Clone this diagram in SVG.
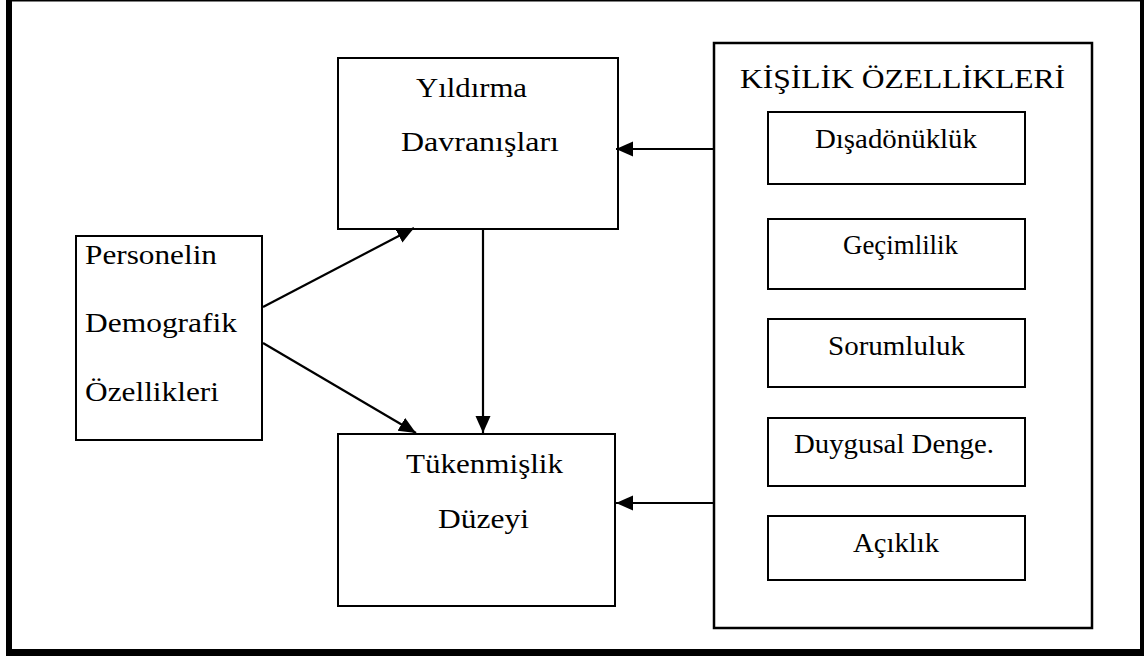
<svg xmlns="http://www.w3.org/2000/svg" width="1144" height="656" viewBox="0 0 1144 656">
  <style>
    .box { fill: #ffffff; stroke: #000000; stroke-width: 2; }
    .t { font-family: 'Liberation Serif', 'Times New Roman', Times, serif; font-size: 28px; fill: #000000; }
    .ti { font-family: 'Liberation Serif', 'Times New Roman', Times, serif; font-size: 27px; fill: #000000; }
    .conn { stroke: #000000; stroke-width: 2.2; fill: none; marker-end: url(#arr); }
  </style>
  <defs>
    <marker id="arr" markerUnits="userSpaceOnUse" markerWidth="18" markerHeight="16" refX="17" refY="7.5" orient="auto">
      <path d="M0,0 L17,7.5 L0,15 Z" fill="#000000"/>
    </marker>
  </defs>
  <rect width="1144" height="656" fill="#ffffff"/>
  <g id="frame">
    <rect x="6" y="0" width="1138" height="1.5" fill="#000"/>
    <rect x="6" y="0" width="6" height="656" fill="#000"/>
    <rect x="1140" y="0" width="4" height="656" fill="#000"/>
    <rect x="6" y="649" width="1138" height="7" fill="#000"/>
  </g>
  <g id="yildirma">
    <rect class="box" x="338" y="58" width="280" height="171"/>
    <text class="t" x="416" y="97" textLength="111" lengthAdjust="spacingAndGlyphs">Yıldırma</text>
    <text class="t" x="401" y="151" textLength="158" lengthAdjust="spacingAndGlyphs">Davranışları</text>
  </g>
  <g id="personel">
    <rect class="box" x="76" y="236" width="186" height="204"/>
    <text class="t" x="85" y="264" textLength="132" lengthAdjust="spacingAndGlyphs">Personelin</text>
    <text class="t" x="85" y="332" textLength="152" lengthAdjust="spacingAndGlyphs">Demografik</text>
    <text class="t" x="85" y="401" textLength="134" lengthAdjust="spacingAndGlyphs">Özellikleri</text>
  </g>
  <g id="tukenmislik">
    <rect class="box" x="338" y="434" width="277" height="172"/>
    <text class="t" x="406" y="473" textLength="157" lengthAdjust="spacingAndGlyphs">Tükenmişlik</text>
    <text class="t" x="438" y="528" textLength="91" lengthAdjust="spacingAndGlyphs">Düzeyi</text>
  </g>
  <g id="kisilik">
    <rect class="box" x="714" y="43" width="378" height="585" style="stroke-width:2.5"/>
    <text class="t" x="740" y="88" textLength="325" lengthAdjust="spacingAndGlyphs">KİŞİLİK ÖZELLİKLERİ</text>
  </g>
  <g id="disadonukluk">
    <rect class="box" x="768" y="112" width="257" height="72"/>
    <text class="ti" x="815" y="148" textLength="162" lengthAdjust="spacingAndGlyphs">Dışadönüklük</text>
  </g>
  <g id="gecimlilik">
    <rect class="box" x="768" y="219" width="257" height="70"/>
    <text class="ti" x="843" y="254" textLength="115" lengthAdjust="spacingAndGlyphs">Geçimlilik</text>
  </g>
  <g id="sorumluluk">
    <rect class="box" x="768" y="319" width="257" height="68"/>
    <text class="ti" x="828" y="355" textLength="137" lengthAdjust="spacingAndGlyphs">Sorumluluk</text>
  </g>
  <g id="duygusal">
    <rect class="box" x="768" y="418" width="257" height="68"/>
    <text class="ti" x="794" y="453" textLength="200" lengthAdjust="spacingAndGlyphs">Duygusal Denge.</text>
  </g>
  <g id="aciklik">
    <rect class="box" x="768" y="516" width="257" height="64"/>
    <text class="ti" x="853" y="552" textLength="86" lengthAdjust="spacingAndGlyphs">Açıklık</text>
  </g>
  <g id="connectors">
    <line class="conn" x1="263" y1="307" x2="414" y2="228"/>
    <line class="conn" x1="263" y1="343" x2="416" y2="433"/>
    <line class="conn" x1="483" y1="229" x2="483" y2="433"/>
    <line class="conn" x1="713" y1="149" x2="616" y2="149"/>
    <line class="conn" x1="713" y1="503" x2="616" y2="503"/>
  </g>
</svg>
